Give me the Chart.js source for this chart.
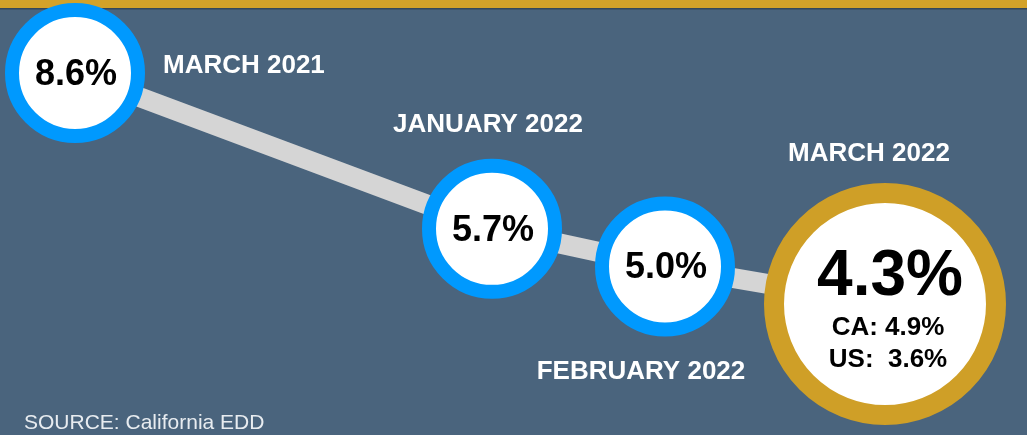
<!DOCTYPE html>
<html>
<head>
<meta charset="utf-8">
<title>Taux de chômage</title>
<script src="https://cdn.jsdelivr.net/npm/chart.js@4/dist/chart.umd.min.js"></script>
<style>
  html, body { margin: 0; padding: 0; background: #4a647d; overflow: hidden; }
  #myChart { display: block; }
</style>
</head>
<body>
<canvas id="myChart" width="1027" height="435"></canvas>
<script>
//! Les données.

const mois = ['MARCH 2021', 'JANUARY 2022', 'FEBRUARY 2022', 'MARCH 2022'];
const tauxChomage = [8.6, 5.7, 5.0, 4.3];
const tauxCA = 4.9;
const tauxUS = 3.6;
const source = 'SOURCE: California EDD';

//! --------------------------------------------------------------

//! La mise en page (position horizontale de chaque cercle, pas des données).

const slotPos = [0.75, 4.92, 6.65, 8.85];

// decalage des libellés par rapport au centre du cercle
const labelOffset = [
  { dx: 88, dy: 0, align: 'left' },
  { dx: -4, dy: -97, align: 'center' },
  { dx: -24, dy: 113, align: 'center' },
  { dx: -16, dy: -143, align: 'center' },
];

const bleu = '#0099fe';
const or = '#cf9f27';
const fond = '#4a647d';

//! --------------------------------------------------------------

//! Plugin pour le fond et les textes.

const fondPlugin = {
  id: 'fond',
  beforeDraw(chart) {
    const ctx = chart.ctx;
    ctx.save();
    ctx.fillStyle = fond;
    ctx.fillRect(0, 0, chart.width, chart.height);
    ctx.fillStyle = '#d3a229';
    ctx.fillRect(0, 0, chart.width, 8);
    ctx.fillStyle = '#34475a';
    ctx.fillRect(0, 8, chart.width, 1.5);
    ctx.restore();
  },
};

const textePlugin = {
  id: 'texte',
  afterDatasetsDraw(chart) {
    const ctx = chart.ctx;
    const points = chart.getDatasetMeta(0).data;
    const dernier = points.length - 1;
    ctx.save();

    points.forEach((pt, i) => {
      // libellé du mois
      ctx.fillStyle = '#ffffff';
      ctx.font = 'bold 26px "Liberation Sans", Arial, sans-serif';
      ctx.textAlign = labelOffset[i].align;
      ctx.textBaseline = 'alphabetic';
      ctx.fillText(mois[i], pt.x + labelOffset[i].dx, pt.y + labelOffset[i].dy);

      // valeur dans le cercle
      ctx.fillStyle = '#000000';
      ctx.textAlign = 'center';
      if (i === dernier) {
        ctx.font = 'bold 64px "Liberation Sans", Arial, sans-serif';
        ctx.fillText(tauxChomage[i].toFixed(1) + '%', pt.x + 5, pt.y - 9);
        ctx.font = 'bold 26px "Liberation Sans", Arial, sans-serif';
        ctx.fillText('CA: ' + tauxCA.toFixed(1) + '%', pt.x + 3, pt.y + 31);
        ctx.fillText('US:  ' + tauxUS.toFixed(1) + '%', pt.x + 3, pt.y + 63);
      } else {
        ctx.font = 'bold 36px "Liberation Sans", Arial, sans-serif';
        ctx.fillText(tauxChomage[i].toFixed(1) + '%', pt.x + 1, pt.y + 12);
      }
    });

    // source
    ctx.fillStyle = '#e8ecf0';
    ctx.font = '21px "Liberation Sans", Arial, sans-serif';
    ctx.textAlign = 'left';
    ctx.fillText(source, 24, 429);

    ctx.restore();
  },
};

//! --------------------------------------------------------------

//! Logique pour la courbe.

const valeurs = tauxChomage.map((v, i) => ({ x: slotPos[i], y: v }));

const data = {
  datasets: [
    {
      label: 'Taux de chômage',
      data: valeurs,
      borderColor: '#d5d5d5',
      borderWidth: 20,
      tension: 0,
      pointRadius: [63, 63, 63, 111],
      pointBorderWidth: [14, 14, 14, 20],
      pointBackgroundColor: '#ffffff',
      pointBorderColor: [bleu, bleu, bleu, or],
      clip: false,
    },
  ],
};

const options = {
  responsive: false,
  animation: false,
  events: [],
  layout: { padding: 0, autoPadding: false },
  plugins: {
    legend: { display: false },
    tooltip: { enabled: false },
  },
  scales: {
    x: { type: 'linear', display: false, min: 0, max: 10.27 },
    y: { display: false, min: 1.861, max: 9.959 },
  },
};

const config = {
  type: 'line',
  data,
  options,
  plugins: [fondPlugin, textePlugin],
};

const myChart = new Chart(document.getElementById('myChart'), config);

//! --------------------------------------------------------------
</script>
</body>
</html>
